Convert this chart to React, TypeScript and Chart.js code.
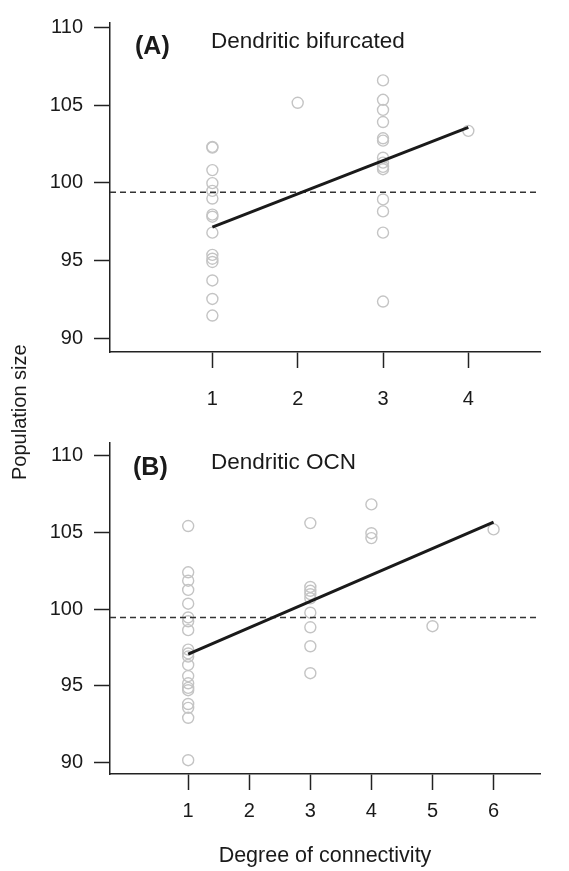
import React, { useEffect, useRef } from "react";
import { Chart, registerables } from "chart.js";

Chart.register(...registerables);

const FONT = "'Liberation Sans', Arial, Helvetica, sans-serif";

// ---- data ----
const yTickValues = [90, 95, 100, 105, 110];
const xTicksA = [1, 2, 3, 4];
const xTicksB = [1, 2, 3, 4, 5, 6];

// Panel A: Dendritic bifurcated
const connA = [
  1, 1, 1, 1, 1, 1, 1, 1, 1, 1, 1, 1, 1, 1, 1,
  2,
  3, 3, 3, 3, 3, 3, 3, 3, 3, 3, 3, 3, 3, 3,
  4,
];
const popA = [
  102.32, 102.27, 100.82, 99.98, 99.48, 98.99, 97.95, 97.82, 96.79, 95.36, 95.11, 94.9, 93.71, 92.52, 91.45,
  105.16,
  106.6, 105.35, 104.7, 103.92, 102.87, 102.72, 101.62, 101.3, 101.03, 100.88, 98.93, 98.16, 96.79, 92.35,
  103.35,
];
const fitXA = [1, 4];
const fitYA = [97.15, 103.57];
const meanA = 99.39;

// Panel B: Dendritic OCN
const connB = [
  1, 1, 1, 1, 1, 1, 1, 1, 1, 1, 1, 1, 1, 1, 1, 1, 1, 1, 1, 1,
  3, 3, 3, 3, 3, 3, 3, 3, 3,
  4, 4, 4,
  5,
  6,
];
const popB = [
  105.42, 102.4, 101.85, 101.25, 100.35, 99.45, 99.2, 98.62, 97.35, 97.1, 96.9, 96.35, 95.62, 95.15, 94.85, 94.7, 93.8, 93.55, 92.9, 90.13,
  105.61, 101.44, 101.19, 100.97, 100.7, 99.76, 98.81, 97.57, 95.81,
  106.83, 104.95, 104.63,
  98.88,
  105.2,
];
const fitXB = [1, 6];
const fitYB = [97.05, 105.67];
const meanB = 99.45;

const xRangeA = [-0.2, 4.84];
const yRangeA = [89.1, 110.3];
const xRangeB = [-0.28, 6.76];
const yRangeB = [89.23, 110.84];

type PanelProps = {
  xs: number[];
  ys: number[];
  fitX: number[];
  fitY: number[];
  mean: number;
  xTicks: number[];
  xRange: number[];
  yRange: number[];
  top: number;
  height: number;
  padTop: number;
  xAxisHeight: number;
  xLabelPad: number;
};

function Panel(p: PanelProps) {
  const ref = useRef<HTMLCanvasElement | null>(null);
  useEffect(() => {
    if (!ref.current) return;
    const axisColor = "#222";
    const chart = new Chart(ref.current, {
      type: "scatter",
      data: {
        datasets: [
          {
            type: "line",
            data: p.fitX.map((x, i) => ({ x, y: p.fitY[i] })),
            borderColor: "#1a1a1a",
            borderWidth: 3,
            pointRadius: 0,
            fill: false,
            order: 1,
          } as any,
          {
            type: "line",
            data: [
              { x: p.xRange[0], y: p.mean },
              { x: p.xRange[1], y: p.mean },
            ],
            borderColor: "#333",
            borderWidth: 1.5,
            borderDash: [6, 4],
            pointRadius: 0,
            fill: false,
            order: 2,
          } as any,
          {
            type: "scatter",
            data: p.xs.map((x, i) => ({ x, y: p.ys[i] })),
            pointRadius: 5.5,
            pointBorderWidth: 1.4,
            borderColor: "#c4c4c4",
            backgroundColor: "rgba(0,0,0,0)",
            order: 3,
          } as any,
        ],
      },
      options: {
        animation: false,
        responsive: false,
        maintainAspectRatio: false,
        devicePixelRatio: 1,
        layout: { padding: { left: 0, right: 29, top: p.padTop, bottom: 0 } },
        plugins: { legend: { display: false }, tooltip: { enabled: false } },
        scales: {
          x: {
            type: "linear",
            min: p.xRange[0],
            max: p.xRange[1],
            afterBuildTicks: (s: any) => {
              s.ticks = p.xTicks.map((v) => ({ value: v }));
            },
            afterFit: (s: any) => {
              s.height = p.xAxisHeight;
            },
            grid: {
              display: true,
              drawOnChartArea: false,
              drawTicks: true,
              tickLength: 16,
              tickColor: axisColor,
              tickWidth: 1.5,
            },
            border: { display: true, color: axisColor, width: 1.5 },
            ticks: {
              color: "#1a1a1a",
              font: { family: FONT, size: 20 },
              padding: p.xLabelPad,
              maxRotation: 0,
              autoSkip: false,
            },
          },
          y: {
            type: "linear",
            min: p.yRange[0],
            max: p.yRange[1],
            afterBuildTicks: (s: any) => {
              s.ticks = yTickValues.map((v) => ({ value: v }));
            },
            afterFit: (s: any) => {
              s.width = 110;
            },
            grid: {
              display: true,
              drawOnChartArea: false,
              drawTicks: true,
              tickLength: 16,
              tickColor: axisColor,
              tickWidth: 1.5,
            },
            border: { display: true, color: axisColor, width: 1.5 },
            ticks: {
              color: "#1a1a1a",
              font: { family: FONT, size: 20 },
              padding: 11,
              autoSkip: false,
            },
          },
        },
      } as any,
    });
    return () => chart.destroy();
  }, []);
  return (
    <canvas
      ref={ref}
      width={569}
      height={p.height}
      style={{ position: "absolute", left: 0, top: p.top, width: 569, height: p.height }}
    />
  );
}

const textBase: React.CSSProperties = {
  position: "absolute",
  fontFamily: FONT,
  lineHeight: 1,
  whiteSpace: "nowrap",
  color: "#1a1a1a",
  margin: 0,
};

export default function App() {
  useEffect(() => {
    document.body.style.margin = "0";
    document.body.style.background = "#fff";
  }, []);
  return (
    <div style={{ position: "absolute", left: 0, top: 0, width: 569, height: 871, background: "#fff", overflow: "hidden" }}>
      <Panel
        xs={connA}
        ys={popA}
        fitX={fitXA}
        fitY={fitYA}
        mean={meanA}
        xTicks={xTicksA}
        xRange={xRangeA}
        yRange={yRangeA}
        top={0}
        height={420}
        padTop={15}
        xAxisHeight={68}
        xLabelPad={19}
      />
      <Panel
        xs={connB}
        ys={popB}
        fitX={fitXB}
        fitY={fitYB}
        mean={meanB}
        xTicks={xTicksB}
        xRange={xRangeB}
        yRange={yRangeB}
        top={420}
        height={451}
        padTop={9.3}
        xAxisHeight={97}
        xLabelPad={9}
      />
      <div style={{ ...textBase, left: 135, top: 33.4, fontSize: 25, fontWeight: 700 }}>(A)</div>
      <div style={{ ...textBase, left: 211, top: 30.3, fontSize: 22.5 }}>Dendritic bifurcated</div>
      <div style={{ ...textBase, left: 133, top: 454.3, fontSize: 25, fontWeight: 700 }}>(B)</div>
      <div style={{ ...textBase, left: 211, top: 451.3, fontSize: 22.5 }}>Dendritic OCN</div>
      <div
        style={{
          ...textBase,
          left: 9,
          top: 479.5,
          fontSize: 20,
          transformOrigin: "0 0",
          transform: "rotate(-90deg)",
        }}
      >
        Population size
      </div>
      <div
        style={{
          ...textBase,
          left: 325,
          top: 845,
          fontSize: 21.5,
          transform: "translateX(-50%)",
        }}
      >
        Degree of connectivity
      </div>
    </div>
  );
}
